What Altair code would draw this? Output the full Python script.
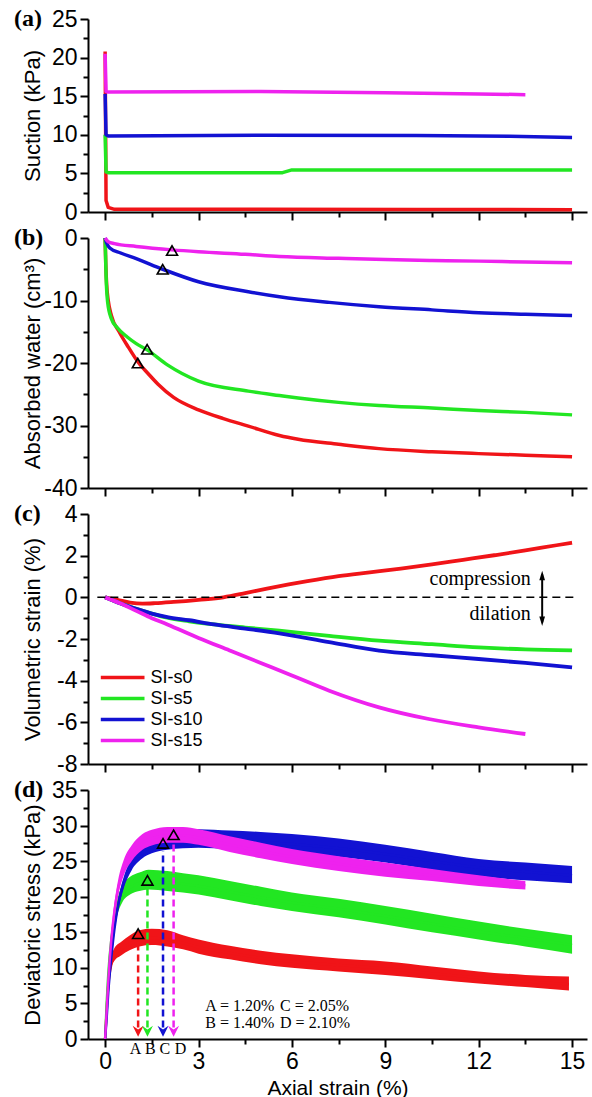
import altair as alt
import pandas as pd

SERIES = ["SI-s0", "SI-s5", "SI-s10", "SI-s15"]
COLORS = ["#f01418", "#22e622", "#1212d2", "#ee22ee"]

# ---------------- (a) suction ----------------
a_x_s0 = [0, 0.03, 0.1, 0.3, 1, 5, 10, 15]
a_y_s0 = [20.8, 1.5, 0.6, 0.35, 0.35, 0.35, 0.32, 0.3]
a_x_s5 = [0, 0.03, 0.1, 3, 5.7, 6.0, 9, 12, 15]
a_y_s5 = [10.0, 5.2, 5.1, 5.1, 5.1, 5.45, 5.45, 5.45, 5.45]
a_x_s10 = [0, 0.03, 0.1, 5, 10, 13, 15]
a_y_s10 = [15.3, 10.0, 9.85, 9.95, 9.9, 9.8, 9.65]
a_x_s15 = [0, 0.03, 0.1, 5, 9, 12, 13.5]
a_y_s15 = [20.5, 15.6, 15.55, 15.6, 15.45, 15.3, 15.2]

# ---------------- (b) absorbed water ----------------
b_x_s0 = [0, 0.02, 0.05, 0.1, 0.2, 0.45, 0.75, 1.05, 1.4, 1.7, 2.2, 3.0, 3.8, 4.6, 5.6, 6.2, 7.5, 8.8, 10.5, 12, 13.5, 15]
b_y_s0 = [0, -4, -7.5, -10, -12.4, -15, -17.5, -19.8, -21.8, -23.4, -25.5, -27.5, -28.9, -30.1, -31.6, -32.2, -33.0, -33.7, -34.2, -34.5, -34.75, -35.0]
b_x_s5 = [0, 0.03, 0.08, 0.2, 0.4, 0.7, 1.0, 1.35, 2.0, 3.0, 4.6, 5.6, 6.2, 7.5, 8.8, 10.5, 12, 13.5, 15]
b_y_s5 = [0, -6, -10.2, -12.9, -14.4, -15.8, -16.9, -17.9, -20.3, -22.9, -24.5, -25.2, -25.6, -26.3, -26.8, -27.2, -27.6, -27.9, -28.3]
b_x_s10 = [0, 0.05, 0.15, 0.5, 1.0, 1.85, 3.0, 4.6, 5.6, 7.2, 8.8, 10.5, 12, 13.5, 15]
b_y_s10 = [0, -0.8, -1.6, -2.4, -3.3, -5.0, -7.0, -8.6, -9.4, -10.3, -11.0, -11.5, -11.95, -12.2, -12.4]
b_x_s15 = [0, 0.1, 0.3, 1.0, 2.15, 3.0, 4.5, 5.6, 7.5, 9, 10.5, 12, 13.5, 15]
b_y_s15 = [0, -0.6, -0.9, -1.35, -1.9, -2.2, -2.6, -2.95, -3.25, -3.45, -3.6, -3.7, -3.85, -3.95]
b_tri_x = [1.05, 1.35, 1.85, 2.15]
b_tri_y = [-20.0, -17.8, -5.0, -2.0]

# ---------------- (c) volumetric strain ----------------
c_x_s0 = [0, 0.4, 0.8, 1.2, 1.6, 2.2, 3.0, 3.8, 4.5, 5.2, 5.9, 6.5, 7.5, 8.5, 9.5, 10.5, 11.5, 12.5, 13.5, 14.5, 15]
c_y_s0 = [0, -0.12, -0.25, -0.3, -0.28, -0.22, -0.12, 0, 0.2, 0.42, 0.62, 0.78, 1.02, 1.2, 1.38, 1.58, 1.8, 2.02, 2.25, 2.5, 2.62]
c_x_s5 = [0, 0.5, 1.0, 1.5, 2.0, 2.7, 3.5, 4.5, 5.6, 7.2, 8.8, 10.5, 12, 13.5, 15]
c_y_s5 = [0, -0.3, -0.55, -0.78, -0.98, -1.15, -1.3, -1.45, -1.6, -1.85, -2.08, -2.25, -2.4, -2.5, -2.55]
c_x_s10 = [0, 0.5, 1.0, 1.5, 2.0, 2.7, 3.5, 4.5, 5.6, 7.2, 8.8, 10.5, 12, 13.5, 15]
c_y_s10 = [0, -0.3, -0.55, -0.78, -0.95, -1.1, -1.3, -1.5, -1.73, -2.15, -2.56, -2.78, -2.96, -3.15, -3.36]
c_x_s15 = [0, 0.5, 1.0, 1.5, 2.0, 3.0, 4.0, 5.0, 6.0, 7.2, 8.8, 10.4, 12, 13.5]
c_y_s15 = [0, -0.3, -0.65, -1.0, -1.3, -1.95, -2.55, -3.15, -3.75, -4.48, -5.28, -5.84, -6.24, -6.56]

# ---------------- (d) deviatoric stress (noise band lo / hi and centre) ----------------
d_x_s0 = [0, 0.05, 0.1, 0.2, 0.3, 0.5, 0.8, 1.1, 1.5, 2.0, 2.5, 3.0, 4.0, 5.0, 6.0, 7.5, 9.0, 10.5, 12.0, 13.5, 14.9]
d_c_s0 = [0, 4, 7.5, 10.5, 11.8, 12.6, 13.4, 14.0, 14.2, 14.0, 13.5, 12.9, 12.1, 11.4, 10.9, 10.4, 9.9, 9.2, 8.6, 8.1, 7.7]
d_lo_s0 = [0, 3.6, 7, 10, 11, 11.7, 12.5, 13.0, 13.2, 13.0, 12.6, 12.0, 11.2, 10.5, 10.0, 9.5, 9.0, 8.4, 7.8, 7.3, 6.8]
d_hi_s0 = [0, 4.4, 8, 11.5, 12.8, 13.6, 14.6, 15.3, 15.5, 15.3, 14.6, 14.0, 13.1, 12.4, 11.9, 11.3, 10.9, 10.2, 9.5, 9.0, 8.8]
d_x_s5 = [0, 0.05, 0.1, 0.2, 0.3, 0.4, 0.55, 0.8, 1.1, 1.4, 2.0, 2.5, 3.0, 4.0, 5.0, 6.0, 7.5, 9.0, 10.5, 12.0, 13.5, 15.0]
d_c_s5 = [0, 5, 9, 14, 16.8, 18.6, 20.2, 21.3, 21.9, 22.1, 22.0, 21.8, 21.5, 20.7, 19.9, 19.2, 18.3, 17.3, 16.2, 15.1, 14.2, 13.2]
d_lo_s5 = [0, 4.5, 8.3, 13.2, 15.8, 17.6, 19.2, 20.3, 20.8, 21.0, 20.8, 20.6, 20.3, 19.5, 18.7, 18.0, 17.1, 16.1, 15.0, 14.0, 13.0, 12.0]
d_hi_s5 = [0, 5.5, 9.7, 15.0, 17.8, 19.8, 21.6, 22.8, 23.4, 23.8, 23.6, 23.3, 23.0, 22.2, 21.4, 20.6, 19.7, 18.7, 17.6, 16.5, 15.5, 14.6]
d_x_s10 = [0, 0.05, 0.1, 0.2, 0.3, 0.45, 0.6, 0.85, 1.2, 1.5, 2.0, 2.5, 3.0, 4.0, 5.0, 6.0, 7.5, 9.0, 10.5, 12.0, 13.5, 15.0]
d_c_s10 = [0, 3, 6.5, 11.5, 15.5, 19.5, 22, 24.5, 26.2, 27.0, 27.6, 27.9, 28.0, 27.9, 27.7, 27.4, 26.8, 26.0, 25.0, 24.1, 23.5, 23.0]
d_lo_s10 = [0, 2.6, 6.0, 10.8, 14.8, 18.7, 21.2, 23.7, 25.4, 26.1, 26.6, 26.8, 26.9, 26.7, 26.5, 26.2, 25.6, 24.8, 23.8, 22.9, 22.3, 21.9]
d_hi_s10 = [0, 3.4, 7.0, 12.2, 16.2, 20.3, 22.8, 25.4, 27.3, 28.3, 29.0, 29.4, 29.5, 29.3, 29.1, 28.8, 28.2, 27.3, 26.3, 25.3, 24.8, 24.3]
d_x_s15 = [0, 0.05, 0.1, 0.2, 0.3, 0.42, 0.6, 0.85, 1.2, 1.5, 2.0, 2.5, 3.0, 4.0, 5.0, 6.0, 7.5, 9.0, 10.5, 12.0, 13.5]
d_c_s15 = [0, 4, 8, 14, 18, 21.2, 24, 26.0, 27.6, 28.2, 28.6, 28.6, 28.3, 27.3, 26.4, 25.6, 24.6, 23.7, 23.0, 22.2, 21.6]
d_lo_s15 = [0, 3.4, 7.2, 13, 17, 20.2, 23, 25.0, 26.6, 27.2, 27.6, 27.6, 27.3, 26.3, 25.4, 24.6, 23.6, 22.8, 22.2, 21.5, 21.0]
d_hi_s15 = [0, 4.8, 9.0, 15.2, 19.2, 22.4, 25.2, 27.2, 28.8, 29.4, 29.8, 29.8, 29.5, 28.5, 27.6, 26.7, 25.7, 24.8, 23.9, 23.0, 22.2]
d_peak_x = [1.06, 1.36, 1.86, 2.2]
d_peak_y = [14.8, 22.3, 27.5, 28.7]
d_arrow_top = [13.6, 21.2, 26.4, 27.6]
d_arrow_bot = [1.6, 1.6, 1.6, 1.6]
d_letters = ["A", "B", "C", "D"]
d_letter_x = [0.98, 1.45, 1.92, 2.42]
note_left = ["A = 1.20%", "B = 1.40%"]
note_right = ["C = 2.05%", "D = 2.10%"]

X_TICKS = [0, 1.5, 3, 4.5, 6, 7.5, 9, 10.5, 12, 13.5, 15]
X_DOMAIN = [-0.55, 15.48]
W = 499

SANS = "Liberation Sans"
SERIF = "Liberation Serif"


def long_df(xs, ys, name="y"):
    rows = []
    for s, x, y in zip(SERIES, xs, ys):
        for xi, yi in zip(x, y):
            rows.append({"series": s, "x": xi, name: yi})
    return pd.DataFrame(rows)


def color_enc(legend=None):
    return alt.Color("series:N", scale=alt.Scale(domain=SERIES, range=COLORS), legend=legend)


def x_enc(show):
    ax = alt.Axis(
        values=X_TICKS,
        labels=show,
        title="Axial strain (%)" if show else None,
        tickSize={"condition": {"test": "datum.value % 3 === 0", "value": 8}, "value": 5},
        labelExpr="datum.value % 3 === 0 ? '' + datum.value : ''",
        titlePadding=4,
        labelPadding=3,
        titleFontSize=21,
    )
    return alt.X("x:Q", scale=alt.Scale(domain=X_DOMAIN, nice=False, zero=False), axis=ax)


def y_enc(field, domain, step, major, title, h):
    vals = []
    v = domain[0]
    while v <= domain[1] + 1e-9:
        vals.append(round(v, 4))
        v += step
    ax = alt.Axis(
        values=vals,
        title=title,
        tickSize={"condition": {"test": f"datum.value % {major} === 0", "value": 8}, "value": 5},
        labelExpr=f"datum.value % {major} === 0 ? '' + datum.value : ''",
        labelPadding=3,
        titleX=-44,
        titleY=h / 2,
        titleAlign="center",
        titleBaseline="bottom",
        titleAngle=-90,
    )
    return alt.Y(f"{field}:Q", scale=alt.Scale(domain=domain, nice=False, zero=False), axis=ax)


def letter_layer(txt):
    return alt.Chart(pd.DataFrame({"t": [txt]})).mark_text(
        align="left", baseline="middle", font=SERIF, fontWeight="bold", fontSize=24, color="black"
    ).encode(x=alt.value(-74), y=alt.value(0), text="t:N")


def lines_layers(df, yenc, xenc, width=3.5, legend=None, interp="linear"):
    out = []
    for s in SERIES:
        out.append(
            alt.Chart(df[df.series == s]).mark_line(strokeWidth=width, strokeJoin="round", interpolate=interp).encode(
                x=xenc, y=yenc, color=color_enc(legend)
            )
        )
    return out


# ---------- panel a ----------
HA, HB, HC, HD = 193, 250, 250, 249
dfa = long_df([a_x_s0, a_x_s5, a_x_s10, a_x_s15], [a_y_s0, a_y_s5, a_y_s10, a_y_s15])
ya = y_enc("y", [0, 25], 2.5, 5, "Suction (kPa)", HA)
pa = alt.layer(*lines_layers(dfa, ya, x_enc(False)), letter_layer("(a)")).properties(width=W, height=HA)

# ---------- panel b ----------
dfb = long_df([b_x_s0, b_x_s5, b_x_s10, b_x_s15], [b_y_s0, b_y_s5, b_y_s10, b_y_s15])
yb = y_enc("y", [-40, 0], 5, 10, "Absorbed water (cm³)", HB)
tri_b = pd.DataFrame({"x": b_tri_x, "y": b_tri_y})
pb_tri = alt.Chart(tri_b).mark_point(shape="triangle-up", filled=False, color="black", strokeWidth=1.6, size=120, opacity=1).encode(
    x=x_enc(False), y=yb
)
pb = alt.layer(*lines_layers(dfb, yb, x_enc(False), interp="monotone"), pb_tri, letter_layer("(b)")).properties(width=W, height=HB)

# ---------- panel c ----------
dfc = long_df([c_x_s0, c_x_s5, c_x_s10, c_x_s15], [c_y_s0, c_y_s5, c_y_s10, c_y_s15])
yc = y_enc("y", [-8, 4], 1, 2, "Volumetric strain (%)", HC)
leg = alt.Legend(
    orient="none", legendX=35.5, legendY=152, title=None,
    symbolType="M-3.6,0H1", symbolSize=361, symbolStrokeWidth=3.5,
    labelFont=SANS, labelFontSize=18, labelOffset=4, rowPadding=0, labelColor="black",
)
zero_df = pd.DataFrame({"x": [-0.25], "x2": [15.1], "y": [0]})
zero_line = alt.Chart(zero_df).mark_rule(color="black", strokeWidth=1.5, strokeDash=[8, 5]).encode(
    x=x_enc(False), x2="x2:Q", y=yc
)
arrow_df = pd.DataFrame({"x": [14.04], "y": [-1.2], "y2": [1.1]})
arrow_line = alt.Chart(arrow_df).mark_rule(color="black", strokeWidth=2).encode(x=x_enc(False), y=yc, y2="y2:Q")
head_up = alt.Chart(pd.DataFrame({"x": [14.04], "y": [1.05]})).mark_point(
    shape="M-0.6,1L0,-1L0.6,1Z", filled=True, color="black", size=90, opacity=1
).encode(x=x_enc(False), y=yc)
head_dn = alt.Chart(pd.DataFrame({"x": [14.04], "y": [-1.15]})).mark_point(
    shape="M-0.6,-1L0,1L0.6,-1Z", filled=True, color="black", size=90, opacity=1
).encode(x=x_enc(False), y=yc)
comp_df = pd.DataFrame({"x": [13.67, 13.67], "y": [0.88, -0.8], "t": ["compression", "dilation"]})
comp_txt = alt.Chart(comp_df).mark_text(align="right", baseline="middle", font=SERIF, fontSize=20, color="black").encode(
    x=x_enc(False), y=yc, text="t:N"
)
pc = alt.layer(
    *lines_layers(dfc, yc, x_enc(False), width=3.8, legend=leg, interp="monotone"),
    zero_line, arrow_line, head_up, head_dn, comp_txt, letter_layer("(c)"),
).properties(width=W, height=HC)

# ---------- panel d ----------
rows = []
for s, xs, cs, los, his in zip(
    SERIES,
    [d_x_s0, d_x_s5, d_x_s10, d_x_s15],
    [d_c_s0, d_c_s5, d_c_s10, d_c_s15],
    [d_lo_s0, d_lo_s5, d_lo_s10, d_lo_s15],
    [d_hi_s0, d_hi_s5, d_hi_s10, d_hi_s15],
):
    for xi, ci, li, hi in zip(xs, cs, los, his):
        rows.append({"series": s, "x": xi, "y": ci, "lo": li, "hi": hi})
dfd = pd.DataFrame(rows)
yd = y_enc("y", [0, 35], 2.5, 5, "Deviatoric stress (kPa)", HD)
yd_lo = y_enc("lo", [0, 35], 2.5, 5, "Deviatoric stress (kPa)", HD)
d_layers = []
for s in SERIES:
    sub = dfd[dfd.series == s]
    d_layers.append(alt.Chart(sub).mark_area(opacity=1, interpolate="monotone").encode(
        x=x_enc(True), y=yd_lo, y2="hi:Q", color=color_enc()))
    d_layers.append(alt.Chart(sub).mark_line(strokeWidth=2.5, interpolate="monotone").encode(
        x=x_enc(True), y=yd, color=color_enc()))
arr_df = pd.DataFrame({"series": SERIES, "x": d_peak_x, "y": d_arrow_bot, "y2": d_arrow_top})
arr_rule = alt.Chart(arr_df).mark_rule(strokeWidth=2.5, strokeDash=[7, 4]).encode(
    x=x_enc(True), y=yd, y2="y2:Q", color=color_enc()
)
head_df = pd.DataFrame({"series": SERIES, "x": d_peak_x, "y": [1.1] * 4})
arr_head = alt.Chart(head_df).mark_point(shape="M-1,-1L0,1L1,-1L0,-0.3Z", filled=True, size=120, opacity=1).encode(
    x=x_enc(True), y=yd, color=color_enc()
)
tri_d = alt.Chart(pd.DataFrame({"x": d_peak_x, "y": d_peak_y})).mark_point(
    shape="triangle-up", filled=False, color="black", strokeWidth=1.6, size=120, opacity=1
).encode(x=x_enc(True), y=yd)
let_df = pd.DataFrame({"x": d_letter_x, "y": [-1.4] * 4, "t": d_letters})
let_txt = alt.Chart(let_df).mark_text(baseline="middle", align="center", font=SERIF, fontSize=16, color="black").encode(
    x=x_enc(True), y=yd, text="t:N"
)
note_df = pd.DataFrame({
    "x": [3.22, 3.22, 5.62, 5.62],
    "y": [4.7, 2.2, 4.7, 2.2],
    "t": note_left + note_right,
})
note_txt = alt.Chart(note_df).mark_text(baseline="middle", align="left", font=SERIF, fontSize=16, color="black").encode(
    x=x_enc(True), y=yd, text="t:N"
)
pd_chart = alt.layer(*d_layers, arr_rule, arr_head, tri_d, let_txt, note_txt, letter_layer("(d)")).properties(
    width=W, height=HD
)

chart = (
    alt.vconcat(pa, pb, pc, pd_chart, spacing=26, bounds="flush")
    .resolve_scale(color="independent")
    .resolve_legend(color="independent")
    .properties(padding={"left": 14, "top": 7, "right": 5, "bottom": 4})
    .configure_view(stroke=None)
    .configure_axis(
        grid=False,
        domainColor="black",
        domainWidth=2,
        tickColor="black",
        tickWidth=2,
        labelFont=SANS,
        labelFontSize=23,
        labelColor="black",
        titleFont=SANS,
        titleFontSize=22,
        titleFontWeight="normal",
        titleColor="black",
    )
)

chart.save("out.html", embed_options={"renderer": "svg", "actions": False})
